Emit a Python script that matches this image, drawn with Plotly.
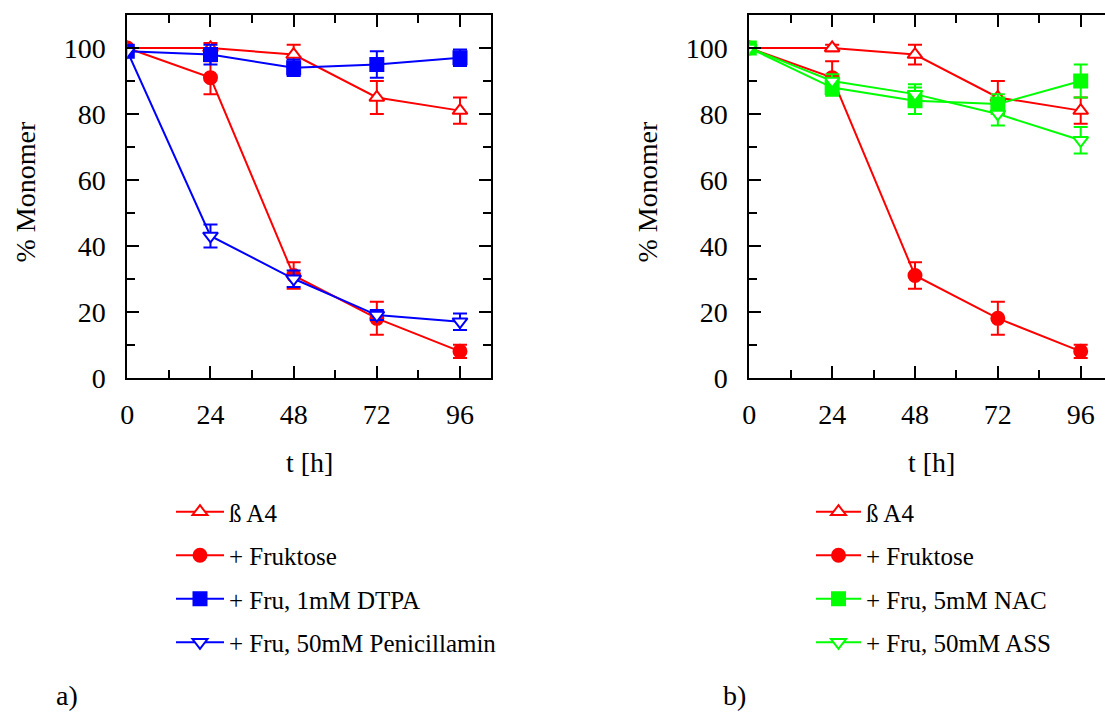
import plotly.graph_objects as go

# Time points (h)
t = [0, 24, 48, 72, 96]

# Panel a
a_ba4 = [100, 100, 98, 85, 81]
a_ba4_err = [0, 1.5, 3, 5, 4]
a_fru = [100, 91, 31, 18, 8]
a_fru_err = [0, 5, 4, 5, 2]
a_dtpa = [99, 98, 94, 95, 97]
a_dtpa_err = [0, 3, 2.5, 4, 2.5]
a_pen = [99, 43, 30, 19, 17]
a_pen_err = [0, 3.5, 2.5, 1.5, 2.5]

# Panel b
b_ba4 = [100, 100, 98, 85, 81]
b_ba4_err = [0, 1, 3, 5, 4]
b_fru = [100, 91, 31, 18, 8]
b_fru_err = [0, 5, 4, 5, 2]
b_nac = [100, 88, 84, 83, 90]
b_nac_err = [0, 2.5, 4, 3, 5]
b_ass = [100, 90, 86, 80, 72]
b_ass_err = [0, 2, 3, 3.5, 4]

x_ticks = [0, 24, 48, 72, 96]
x_minor = [12, 36, 60, 84]
y_ticks = [0, 20, 40, 60, 80, 100]
y_minor = [10, 30, 50, 70, 90]

RED = "#ff0000"
BLUE = "#0000ff"
GREEN = "#00ff00"
FONT = "Liberation Serif"

W, H = 1105, 713

def px_x(v):
    return v / W

def px_y(v):
    return 1 - v / H

fig = go.Figure()

def add(x, y, err, name, color, symbol, filled, xa, ya, legend, group):
    fig.add_trace(go.Scatter(
        x=x, y=y, name=name, mode="lines+markers",
        xaxis=xa, yaxis=ya, legend=legend, legendgroup=group,
        line=dict(color=color, width=2),
        marker=dict(symbol=symbol, size=13,
                    color=color if filled else "white",
                    line=dict(color=color, width=2)),
        error_y=dict(type="data", array=err, visible=True,
                     color=color, thickness=2, width=7),
    ))

add(t, a_ba4, a_ba4_err, "ß A4", RED, "triangle-up", False, "x", "y", "legend", "a1")
add(t, a_fru, a_fru_err, "+ Fruktose", RED, "circle", True, "x", "y", "legend", "a2")
add(t, a_dtpa, a_dtpa_err, "+ Fru, 1mM DTPA", BLUE, "square", True, "x", "y", "legend", "a3")
add(t, a_pen, a_pen_err, "+ Fru, 50mM Penicillamin", BLUE, "triangle-down", False, "x", "y", "legend", "a4")

add(t, b_ba4, b_ba4_err, "ß A4", RED, "triangle-up", False, "x2", "y2", "legend2", "b1")
add(t, b_fru, b_fru_err, "+ Fruktose", RED, "circle", True, "x2", "y2", "legend2", "b2")
add(t, b_nac, b_nac_err, "+ Fru, 5mM NAC", GREEN, "square", True, "x2", "y2", "legend2", "b3")
add(t, b_ass, b_ass_err, "+ Fru, 50mM ASS", GREEN, "triangle-down", False, "x2", "y2", "legend2", "b4")

tickfont = dict(family=FONT, size=28, color="black")

def xaxis(domain, rng, anchor):
    return dict(domain=domain, range=rng, anchor=anchor, tickvals=x_ticks,
                ticks="inside", ticklen=12, tickwidth=2, tickcolor="black",
                showline=True, linewidth=2, linecolor="black",
                mirror="ticks", showgrid=False, zeroline=False, automargin=False,
                minor=dict(tickvals=x_minor, ticks="inside", ticklen=8,
                           tickwidth=2, tickcolor="black", showgrid=False),
                tickfont=tickfont, ticklabelstandoff=11)

def yaxis(domain, anchor, mirror):
    return dict(domain=domain, range=[0, 110], anchor=anchor, tickvals=y_ticks,
                ticks="inside", ticklen=12, tickwidth=2, tickcolor="black",
                showline=True, linewidth=2, linecolor="black",
                mirror=mirror, showgrid=False, zeroline=False, automargin=False,
                minor=dict(tickvals=y_minor, ticks="inside", ticklen=8,
                           tickwidth=2, tickcolor="black", showgrid=False),
                tickfont=tickfont, ticklabelstandoff=14)

ytop, ybot = 15, 377.7
ydom = [px_y(ybot), px_y(ytop)]
scale_a = (460 - 127.3) / 96
scale_b = (1080.7 - 749.3) / 96
xa_end = 127.3 + 105 * scale_a
xb_end = (W - 749.3) / scale_b   # panel b runs past the page edge

fig.update_layout(
    width=W, height=H,
    margin=dict(l=0, r=0, t=0, b=0, autoexpand=False),
    paper_bgcolor="white", plot_bgcolor="white",
    font=dict(family=FONT, size=25, color="black"),
    xaxis=xaxis([px_x(127.3), px_x(xa_end)], [0, 105], "y"),
    yaxis=yaxis(ydom, "x", "ticks"),
    xaxis2=xaxis([px_x(749.3), 1.0], [0, xb_end], "y2"),
    yaxis2=yaxis(ydom, "x2", False),
    # right-hand frame ticks of panel b, whose frame line lies beyond the edge
    yaxis3=dict(domain=ydom, range=[0, 110], overlaying="y2", anchor="free",
                position=1.0, side="right", tickvals=y_ticks, ticks="inside",
                ticklen=5, tickwidth=2, tickcolor="black", showline=False,
                showticklabels=False, showgrid=False, zeroline=False,
                automargin=False,
                minor=dict(tickvals=y_minor, ticks="inside", ticklen=2,
                           tickwidth=2, tickcolor="black", showgrid=False)),
    legend=dict(x=px_x(171), y=px_y(489), xanchor="left", yanchor="top",
                tracegroupgap=8, itemwidth=48, bgcolor="rgba(0,0,0,0)",
                font=dict(family=FONT, size=25, color="black")),
    legend2=dict(x=px_x(811), y=px_y(489), xanchor="left", yanchor="top",
                 tracegroupgap=8, itemwidth=45, bgcolor="rgba(0,0,0,0)",
                 font=dict(family=FONT, size=25, color="black")),
    showlegend=True,
)

annots = [
    dict(text="t [h]", x=px_x(309), y=px_y(463), yanchor="middle"),
    dict(text="t [h]", x=px_x(931), y=px_y(463), yanchor="middle"),
    dict(text="% Monomer", x=px_x(24.5), y=px_y(192), yanchor="middle", textangle=-90),
    dict(text="% Monomer", x=px_x(646.5), y=px_y(192), yanchor="middle", textangle=-90),
    dict(text="a)", x=px_x(67), y=0, yanchor="bottom"),
    dict(text="b)", x=px_x(734), y=0, yanchor="bottom"),
]
for a in annots:
    fig.add_annotation(xref="paper", yref="paper", showarrow=False,
                       xanchor="center",
                       font=dict(family=FONT, size=28, color="black"), **a)

# page without body margin or scrollbars, so the figure fills the window exactly
fig.write_html("out.html",
               post_script="document.documentElement.style.overflow='hidden';"
                           "document.body.style.overflow='hidden';"
                           "document.body.style.margin='0';")
